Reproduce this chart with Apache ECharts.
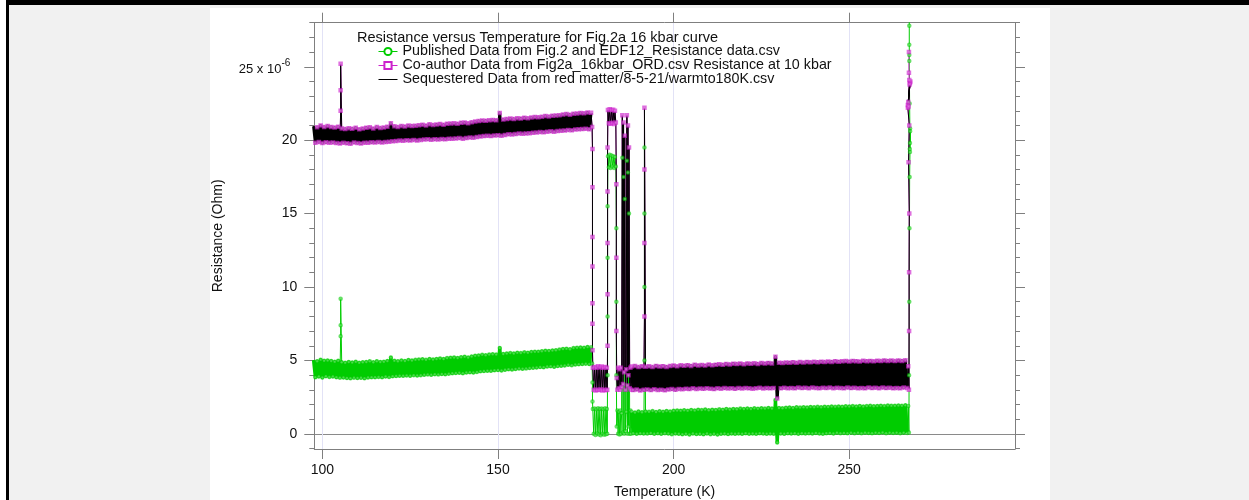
<!DOCTYPE html>
<html><head><meta charset="utf-8">
<script src="https://cdn.jsdelivr.net/npm/echarts@6/dist/echarts.min.js"></script>
<style>
html,body{margin:0;padding:0;width:1249px;height:500px;overflow:hidden;background:#fff;}
#frame{position:absolute;left:6px;top:0;width:1243px;height:500px;border-left:3px solid #000;border-top:5px solid #000;background:#f1f1f1;box-sizing:border-box;}
#panel{position:absolute;left:210px;top:8px;width:840px;height:492px;background:#fff;}
#chart{position:absolute;left:0;top:0;width:1249px;height:500px;}
</style></head><body>
<div id="frame"></div><div id="panel"></div><div id="chart"></div>
<script>
// ---------- tick labels / names ----------
const xTicks = [100, 150, 200, 250];
const yMajor = [0, 5, 10, 15, 20, 25];
const yMinor = [-1,0,1,2,3,4,5,6,7,8,9,10,11,12,13,14,15,16,17,18,19,20,21,22,23,24,25,26,27,28];
const legendTitle = 'Resistance versus Temperature for Fig.2a 16 kbar curve';
const N1 = 'Published Data from Fig.2 and EDF12_Resistance data.csv';
const N2 = 'Co-author Data from Fig2a_16kbar_ORD.csv Resistance at 10 kbar';
const N3 = 'Sequestered Data from red matter/8-5-21/warmto180K.csv';

// ---------- data (Temperature K, Resistance x1e-6 Ohm) ----------
const tempA1 = [97.5,98,98.5,99,99.5,100,100.5,101,101.5,102,102.5,103,103.5,104,104.5,105];
const blackA1 = [20.95,19.82,20.88,19.88,21.00,19.80,20.90,19.86,20.97,19.83,20.90,19.85,20.86,19.80,20.92,19.78];
const greenA1 = [5.02,3.86,4.95,3.90,5.05,3.84,4.98,3.92,5.00,3.88,4.96,3.90,4.92,3.85,4.98,3.83];

const spike105T = [105.2,105.2,105.2];
const blackSpike105 = [22.0,23.4,25.2];
const greenSpike105 = [6.65,7.4,9.2];

const tempA2 = [105.5,106,106.5,107,
 107.5,108,108.5,109,109.5,110,110.5,111,111.5,112,
 112.5,113,113.5,114,114.5,115,115.5,116,116.5,117,
 117.5,118,118.5,119,119.5,120,120.5,121,121.5,122,
 122.5,123,123.5,124,124.5,125,125.5,126,126.5,127,
 127.5,128,128.5,129,129.5,130,130.5,131,131.5,132,
 132.5,133,133.5,134,134.5,135,135.5,136,136.5,137,
 137.5,138,138.5,139,139.5,140,140.5,141,141.5,142,
 142.5,143,143.5,144,144.5,145,145.5,146,146.5,147,
 147.5,148,148.5,149,149.5,150,150.5,151,151.5,152,
 152.5,153,153.5,154,154.5,155,155.5,156,156.5,157,
 157.5,158,158.5,159,159.5,160,160.5,161,161.5,162,
 162.5,163,163.5,164,164.5,165,165.5,166,166.5,167,
 167.5,168,168.5,169,169.5,170,170.5,171,171.5,172,
 172.5,173,173.5,174,174.5,175,175.5,176,176.5];
const blackA2 = [20.80,19.82,20.76,19.79,
 20.82,19.76,20.78,19.84,20.85,19.80,20.74,19.78,20.80,19.83,
 20.84,19.82,20.88,19.86,20.80,19.84,20.90,19.88,20.83,19.85,
 20.86,19.88,20.92,19.90,21.15,19.92,20.95,19.95,20.90,19.97,
 20.97,19.96,20.93,20.00,21.00,19.98,20.96,20.02,20.99,19.97,
 21.02,20.02,21.05,20.04,21.00,20.06,21.08,20.03,21.04,20.07,
 21.06,20.05,21.10,20.08,21.05,20.06,21.12,20.10,21.14,20.09,
 21.16,20.12,21.12,20.14,21.18,20.10,21.20,20.15,21.15,20.18,
 21.22,20.16,21.28,20.22,21.30,20.25,21.34,20.28,21.32,20.30,
 21.36,20.28,21.38,20.32,21.35,20.34,21.85,20.30,21.40,20.36,
 21.45,20.40,21.48,20.38,21.44,20.42,21.50,20.45,21.47,20.43,
 21.52,20.46,21.50,20.48,21.55,20.50,21.58,20.52,21.56,20.55,
 21.60,20.54,21.64,20.58,21.62,20.60,21.66,20.57,21.68,20.62,
 21.70,20.64,21.75,20.66,21.78,20.70,21.74,20.68,21.80,20.72,
 21.82,20.74,21.85,20.76,21.84,20.78,21.88,20.75,21.86];
const greenA2 = [4.88,3.84,4.85,3.80,
 4.90,3.78,4.86,3.83,4.92,3.80,4.84,3.82,4.88,3.79,
 4.90,3.84,4.94,3.86,4.88,3.85,4.95,3.88,4.90,3.86,
 4.92,3.90,4.97,3.88,5.20,3.92,4.98,3.94,4.95,3.96,
 5.00,3.95,4.97,3.98,5.03,3.96,5.00,4.00,5.04,3.97,
 5.06,4.00,5.08,4.03,5.04,4.05,5.10,4.02,5.07,4.06,
 5.10,4.05,5.14,4.08,5.10,4.06,5.16,4.10,5.18,4.12,
 5.20,4.14,5.17,4.16,5.22,4.13,5.25,4.18,5.20,4.20,
 5.27,4.18,5.32,4.22,5.34,4.26,5.38,4.28,5.36,4.30,
 5.40,4.30,5.42,4.33,5.40,4.35,5.85,4.32,5.44,4.37,
 5.48,4.40,5.50,4.38,5.47,4.42,5.53,4.45,5.50,4.43,
 5.55,4.46,5.53,4.48,5.58,4.50,5.60,4.52,5.59,4.55,
 5.63,4.54,5.66,4.58,5.65,4.60,5.68,4.57,5.70,4.62,
 5.74,4.64,5.78,4.66,5.80,4.70,5.77,4.68,5.84,4.72,
 5.86,4.74,5.88,4.76,5.87,4.78,5.92,4.75,5.90];

const blackMidT = [176.8,176.9,176.9,176.9,176.9,176.9,176.9,176.9,
 177,177.25,177.5,177.75,178,178.25,178.5,178.75,179,179.25,179.5,179.75,180,180.25,180.5,180.75,181,181.1,
 181.2,181.2,181.2,181.2,181.2,
 181.3,181.55,181.8,182.05,182.3,182.55,182.8,183.05,183.3,183.55,
 183.7,183.7,183.7,183.8,
 184,184.2,184.4,184.6,184.8,185,185.2,185.4,185.6,185.75,185.9,186.1,186.3,186.5,186.7,186.85,187,187.15,187.3,187.5,187.7,187.85];
const blackMidR = [20.9,19.4,16.8,13.4,11.4,8.9,7.5,5.7,
 4.5,3.0,4.55,2.95,4.5,3.0,4.6,2.98,4.52,3.02,4.58,2.96,4.5,3.0,4.55,2.97,4.5,3.0,
 6,9.5,13,16.5,19.5,
 22.05,21.15,22.1,21.12,22.05,21.18,22.08,21.1,22.0,21.2,
 17,12,7,3.8,
 3.0,4.5,3.1,4.4,3.0,4.5,3.2,21.7,3.4,21.2,4.2,20.3,3.0,4.4,21.7,3.3,21.0,4.0,19.5,3.1,4.5,3.0];
const greenMidT = [176.8,176.9,176.9,
 177,177.25,177.5,177.75,178,178.25,178.5,178.75,179,179.25,179.5,179.75,180,180.25,180.5,180.75,181,181.1,
 181.2,181.2,181.2,181.2,
 181.3,181.55,181.8,182.05,182.3,182.55,182.8,183.05,183.3,183.55,
 183.7,183.7,183.7,183.8,
 184,184.2,184.4,184.6,184.8,185,185.2,185.4,185.6,185.75,185.9,186.1,186.3,186.5,186.7,186.85,187,187.15,187.3,187.5,187.7,187.85];
const greenMidR = [4.8,3.5,2.2,
 1.7,0.0,1.72,-0.08,1.68,0.02,1.75,-0.05,1.7,-0.1,1.72,0.0,1.68,-0.06,1.74,-0.02,1.7,0.0,
 4,8,12,15.5,
 18.9,18.15,19.0,18.1,18.95,18.2,18.9,18.1,18.85,18.2,
 14,9,4,0.5,
 1.6,0.0,1.5,-0.05,1.6,0.0,1.4,18.8,0.1,17.5,0.0,16.0,0.2,1.5,18.6,0.0,17.8,0.5,15.0,0.0,1.6,0.0];

const tempC1 = [188,188.5,189,189.5,190,190.5,191,191.5];
const blackC1 = [4.58,2.98,4.62,3.02,4.55,2.96,4.60,3.00];
const greenC1 = [1.50,0.05,1.46,0.00,1.52,0.04,1.48,0.02];

const spike191T = [191.7,191.7,191.7,191.7];
const blackSpike191 = [8.0,13.0,18.0,22.2];
const greenSpike191 = [5.0,10.0,15.0,19.5];

const tempC2 = [192,192.5,
 193,193.5,194,194.5,195,195.5,196,196.5,197,197.5,
 198,198.5,199,199.5,200,200.5,201,201.5,202,202.5,
 203,203.5,204,204.5,205,205.5,206,206.5,207,207.5,
 208,208.5,209,209.5,210,210.5,211,211.5,212,212.5,
 213,213.5,214,214.5,215,215.5,216,216.5,217,217.5,
 218,218.5,219,219.5,220,220.5,221,221.5,222,222.5,
 223,223.5,224,224.5,225,225.5,226,226.5,227,227.5,
 228,228.5,229,229.5,230,230.5,231,231.5,232,232.5,
 233,233.5,234,234.5,235,235.5,236,236.5,237,237.5,
 238,238.5,239,239.5,240,240.5,241,241.5,242,242.5,
 243,243.5,244,244.5,245,245.5,246,246.5,247,247.5,
 248,248.5,249,249.5,250,250.5,251,251.5,252,252.5,
 253,253.5,254,254.5,255,255.5,256,256.5,257,257.5,
 258,258.5,259,259.5,260,260.5,261,261.5,262,262.5,
 263,263.5,264,264.5,265,265.5,266,266.5];
const blackC2 = [4.57,3.03,
 4.60,2.98,4.55,3.04,4.63,2.99,4.58,3.01,4.61,2.97,
 4.56,3.02,4.62,3.05,4.65,3.00,4.60,3.06,4.67,3.04,
 4.64,3.08,4.68,3.05,4.63,3.10,4.70,3.06,4.66,3.09,
 4.69,3.07,4.65,3.11,4.72,3.08,4.67,3.05,4.71,3.10,
 4.74,3.08,4.70,3.12,4.76,3.09,4.73,3.11,4.78,3.07,
 4.75,3.12,4.79,3.09,4.74,3.13,4.80,3.10,4.77,3.08,
 4.81,3.11,4.76,3.14,4.82,3.09,4.79,3.12,4.83,3.10,
 4.80,3.13,5.25,2.41,4.84,3.10,4.82,3.14,4.86,3.11,
 4.85,3.13,4.88,3.10,4.84,3.15,4.89,3.12,4.86,3.14,
 4.90,3.11,4.87,3.15,4.91,3.13,4.88,3.10,4.92,3.14,
 4.89,3.12,4.93,3.15,4.90,3.11,4.95,3.14,4.92,3.13,
 4.94,3.10,4.96,3.15,4.93,3.12,4.97,3.14,4.95,3.11,
 4.93,3.13,4.98,3.10,4.95,3.16,4.97,3.12,4.94,3.14,
 4.98,3.11,4.96,3.15,5.00,3.12,4.97,3.14,4.99,3.10,
 4.96,3.13,5.00,3.11,4.97,3.15,5.01,3.12];
const greenC2 = [1.53,0.03,
 1.50,0.06,1.55,0.01,1.49,0.04,1.54,0.00,1.51,0.05,
 1.56,0.02,1.53,-0.02,1.58,0.03,1.60,0.00,1.57,-0.03,
 1.61,0.01,1.58,-0.04,1.63,0.02,1.60,-0.01,1.64,0.00,
 1.62,-0.03,1.66,0.02,1.61,-0.02,1.65,0.01,1.63,-0.04,
 1.67,0.00,1.64,0.03,1.69,-0.01,1.66,0.02,1.70,0.00,
 1.68,0.03,1.72,0.00,1.69,0.04,1.73,0.01,1.70,0.02,
 1.74,0.00,1.71,0.04,1.75,0.02,1.72,0.00,1.76,0.03,
 1.73,0.01,2.30,-0.59,1.77,0.03,1.74,0.00,1.78,0.04,
 1.80,0.02,1.77,0.05,1.81,0.01,1.79,0.04,1.82,0.03,
 1.80,0.05,1.83,0.02,1.81,0.06,1.84,0.03,1.82,0.01,
 1.85,0.04,1.83,0.06,1.86,0.03,1.84,0.07,1.87,0.05,
 1.85,0.06,1.88,0.04,1.86,0.08,1.89,0.05,1.87,0.07,
 1.90,0.05,1.87,0.08,1.89,0.06,1.91,0.04,1.88,0.07,
 1.90,0.06,1.92,0.09,1.89,0.05,1.93,0.08,1.91,0.06,
 1.92,0.07,1.94,0.05,1.91,0.08,1.95,0.06];

const blackTailT = [266.8,267.0,267.05,267.05,267.1,266.9,267.1,266.7,267.3,266.7,267.4,266.8,267.2,266.9,267.1];
const blackTailR = [4.6,3.0,7,11,15,18.5,21,22.2,23.9,22.4,24.0,22.6,23.8,22.3,24.1];
const magentaExtraT = [267.0,267.0];
const magentaExtraR = [24.6,26.0];
const greenTailT = [266.8,267.0,267.05,267.1,267.15,267.2,267.3,267.35,267.25,267.35,267.3,267.2,267.1,267.1,267.1,267.1,267.1];
const greenTailR = [1.9,0.1,4,9,14,17.5,19.2,20.8,19.4,20.6,19.8,22.5,25.4,25.8,26.5,27.8,29.5];

// ---------- build ----------
function zip(t, r) { return t.map((x, i) => [x, r[i]]); }
const greenFull = [].concat(zip(tempA1, greenA1), zip(spike105T, greenSpike105), zip(tempA2, greenA2),
  zip(greenMidT, greenMidR), zip(tempC1, greenC1), zip(spike191T, greenSpike191), zip(tempC2, greenC2),
  zip(greenTailT, greenTailR));
const blackFull = [].concat(zip(tempA1, blackA1), zip(spike105T, blackSpike105), zip(tempA2, blackA2),
  zip(blackMidT, blackMidR), zip(tempC1, blackC1), zip(spike191T, blackSpike191), zip(tempC2, blackC2),
  zip(blackTailT, blackTailR));
const magentaFull = blackFull.concat(zip(magentaExtraT, magentaExtraR));
const greenBandA = zip(tempA1, greenA1).concat(zip(tempA2, greenA2));
const greenBandC = zip(tempC1, greenC1).concat(zip(tempC2, greenC2));
const blackBandA = zip(tempA1, blackA1).concat(zip(tempA2, blackA2));
const blackBandC = zip(tempC1, blackC1).concat(zip(tempC2, blackC2));

const FONT = '"Liberation Sans", Arial, Helvetica, sans-serif';
const AX = '#7f7f7f';
const TXT = '#111';
const GREEN = '#00cc00', MAG = '#cc22cc', BLACK = '#000000';
const XMIN = 97.7, XMAX = 297.2, YMIN = -1.03, YMAX = 28.0;

function xAx(pos, labels) {
  return {
    type: 'value', position: pos, min: XMIN, max: XMAX, gridIndex: 0,
    axisLine: { show: true, onZero: false, lineStyle: { color: AX, width: 1 } },
    axisTick: { show: true, inside: false, length: 10, customValues: xTicks, lineStyle: { color: AX } },
    axisLabel: labels ? { show: true, customValues: xTicks, margin: 14, fontSize: 14, color: TXT, fontFamily: FONT } : { show: false },
    splitLine: { show: labels, lineStyle: { color: '#e2e2f6', width: 1 } },
    name: labels ? 'Temperature (K)' : '', nameLocation: 'middle', nameGap: 36,
    nameTextStyle: { fontSize: 14, color: TXT, fontFamily: FONT }
  };
}
function yAx(pos, major, withLabel) {
  const o = {
    type: 'value', position: pos, min: YMIN, max: YMAX, gridIndex: 0,
    axisLine: { show: major, onZero: false, lineStyle: { color: AX, width: 1 } },
    axisTick: { show: true, inside: false, length: major ? 10 : 5, customValues: major ? yMajor : yMinor, lineStyle: { color: AX } },
    axisLabel: { show: false },
    splitLine: { show: false }
  };
  if (withLabel) {
    o.axisLabel = {
      show: true, customValues: yMajor, margin: 17, fontSize: 14, color: TXT, fontFamily: FONT,
      formatter: v => v === 25 ? '{n|25 x 10}{s|-6}' : String(v),
      rich: {
        n: { fontSize: 13, color: TXT, fontFamily: FONT, padding: [5, 0, 0, 0] },
        s: { fontSize: 10, color: TXT, fontFamily: FONT, verticalAlign: 'top', padding: [0, 7, 0, 0] }
      }
    };
    o.name = 'Resistance (Ohm)';
    o.nameLocation = 'middle';
    o.nameGap = 89;
    o.nameTextStyle = { fontSize: 14, color: TXT, fontFamily: FONT };
  }
  return o;
}
const zeroAxis = {
  type: 'value', position: 'left', min: YMIN, max: YMAX, gridIndex: 0,
  axisLine: { show: false }, axisLabel: { show: false },
  axisTick: { show: false, customValues: [0] },
  splitLine: { show: true, lineStyle: { color: '#8a8a8a', width: 1 } }
};

const chart = echarts.init(document.getElementById('chart'), null, { renderer: 'canvas' });
chart.setOption({
  animation: false,
  backgroundColor: 'transparent',
  textStyle: { fontFamily: FONT },
  grid: { left: 314.3, right: 234, top: 22.7, bottom: 51, containLabel: false, outerBoundsMode: 'none' },
  title: { text: legendTitle, left: 357, top: 30.5, padding: 0,
    textStyle: { fontSize: 14.5, fontWeight: 'normal', color: TXT, fontFamily: FONT } },
  legend: {
    data: [{ name: N1, itemStyle: { opacity: 1 } }, { name: N2, itemStyle: { opacity: 1 } }, { name: N3, itemStyle: { opacity: 0 } }],
    orient: 'vertical', left: 378, top: 44.5, padding: 0,
    itemWidth: 19, itemHeight: 9, itemGap: 0, selectedMode: false,
    lineStyle: { width: 1 }, itemStyle: { borderWidth: 1 },
    textStyle: { fontSize: 14.3, lineHeight: 14, color: TXT, fontFamily: FONT }
  },
  xAxis: [xAx('bottom', true), xAx('top', false)],
  yAxis: [yAx('left', true, true), yAx('left', false, false), yAx('right', true, false), yAx('right', false, false), zeroAxis],
  series: [
    { name: N1, type: 'line', data: greenFull, symbol: 'emptyCircle', symbolSize: 2.5, showSymbol: true,
      lineStyle: { width: 1, color: GREEN }, itemStyle: { color: GREEN, borderColor: GREEN, borderWidth: 0.8, opacity: 0.6 }, silent: true },
    { name: N1, type: 'line', data: greenBandA, symbol: 'none', lineStyle: { width: 3.4, color: GREEN, join: 'round' }, itemStyle: { color: GREEN }, silent: true },
    { name: N1, type: 'line', data: greenBandC, symbol: 'none', lineStyle: { width: 3.4, color: GREEN, join: 'round' }, itemStyle: { color: GREEN }, silent: true },
    { name: N2, type: 'line', data: magentaFull, symbol: 'emptyRect', symbolSize: 2.5, showSymbol: true,
      lineStyle: { width: 1, color: MAG }, itemStyle: { color: MAG, borderColor: MAG, borderWidth: 0.8, opacity: 0.65 }, silent: true },
    { name: N3, type: 'line', data: blackFull, symbol: 'none', lineStyle: { width: 1, color: BLACK }, itemStyle: { color: BLACK }, silent: true },
    { name: N3, type: 'line', data: blackBandA, symbol: 'none', lineStyle: { width: 3, color: BLACK, join: 'round' }, itemStyle: { color: BLACK }, silent: true },
    { name: N3, type: 'line', data: blackBandC, symbol: 'none', lineStyle: { width: 3.2, color: BLACK, join: 'round' }, itemStyle: { color: BLACK }, silent: true }
  ]
});
</script></body></html>
